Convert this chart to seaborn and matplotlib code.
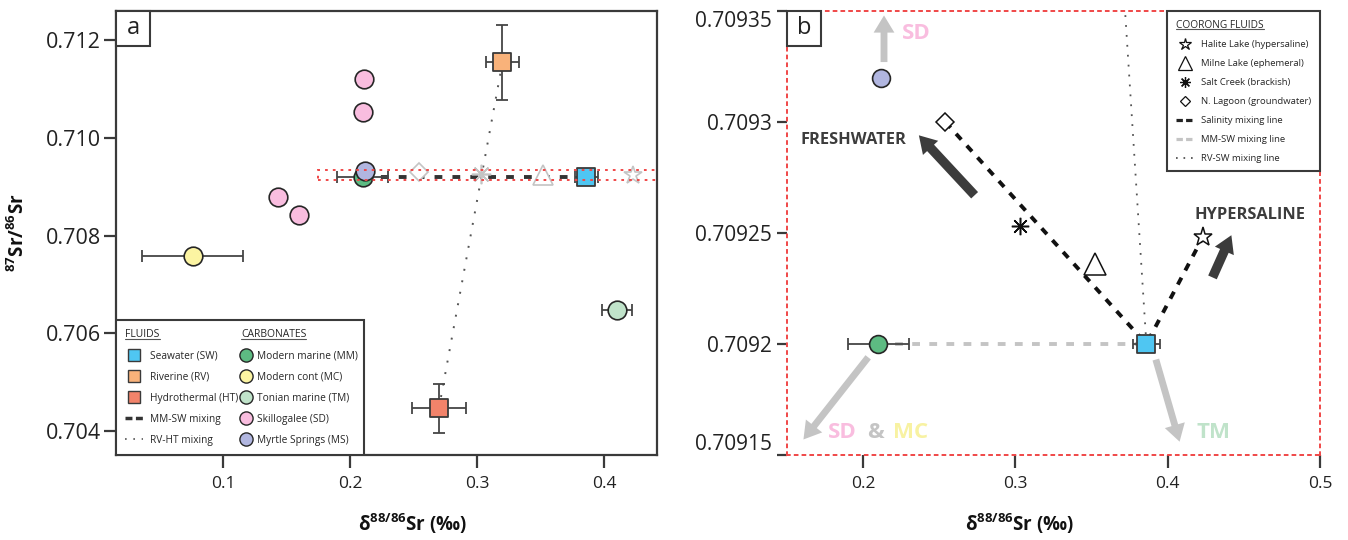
import numpy as np
import pandas as pd
import matplotlib
matplotlib.use('Agg')
import matplotlib.pyplot as plt
import seaborn as sns
from matplotlib.patches import Rectangle
from matplotlib.lines import Line2D

# ---- data: x = d88/86Sr (permil), y = 87Sr/86Sr ----
# fluids
sw_x, sw_y, sw_xerr = 0.386, 0.70920, 0.009
rv_x, rv_y, rv_xerr, rv_yerr = 0.320, 0.71155, 0.013, 0.00077
ht_x, ht_y, ht_xerr, ht_yerr = 0.270, 0.70447, 0.021, 0.00050

# carbonates
mm_x, mm_y, mm_xerr = 0.210, 0.70920, 0.020
mc_x, mc_y, mc_xerr = 0.076, 0.70759, 0.040
tm_x, tm_y, tm_xerr = 0.410, 0.70648, 0.0120
sd_x = [0.211, 0.210, 0.143, 0.160]
sd_y = [0.71120, 0.71053, 0.70880, 0.70843]
ms_x, ms_y = 0.212, 0.709320

# coorong fluids
coorong_names = ['Halite Lake (hypersaline)', 'Milne Lake (ephemeral)',
                 'Salt Creek (brackish)', 'N. Lagoon (groundwater)']
coorong_x = [0.423, 0.352, 0.303, 0.254]
coorong_y = [0.709248, 0.709236, 0.709253, 0.709300]

# mixing lines in panel b
salinity_x = [0.254, 0.386, 0.423]
salinity_y = [0.709300, 0.709200, 0.709248]
rv_sw_x = [0.386, 0.372]
rv_sw_y = [0.709200, 0.709350]

a_yticks = [0.704, 0.706, 0.708, 0.710, 0.712]
a_xticks = [0.1, 0.2, 0.3, 0.4]
b_yticks = [0.70915, 0.70920, 0.70925, 0.70930, 0.70935]
b_yticklabels = ['0.70915', '0.7092', '0.70925', '0.7093', '0.70935']
b_xticks = [0.2, 0.3, 0.4, 0.5]

# colours
sw_col = '#4fc6f2'
rv_col = '#f9b27a'
ht_col = '#f2836a'
mm_col = '#5dbb82'
mc_col = '#fcf4a2'
tm_col = '#c0e3ca'
sd_col = '#f9bddf'
ms_col = '#b1b6e0'
dark = '#3a3a3a'
red = '#f04848'
light = '#c4c4c4'

sns.set_theme(style='ticks')
plt.rcParams['font.family'] = ['Open Sans', 'DejaVu Sans']
plt.rcParams['mathtext.fontset'] = 'custom'
plt.rcParams['mathtext.rm'] = 'Open Sans'
plt.rcParams['mathtext.default'] = 'regular'

fig = plt.figure(figsize=(13.48, 5.4), dpi=100)
ax1 = fig.add_axes([116/1348, 85/540, 541/1348, 444/540])
ax2 = fig.add_axes([787/1348, 85/540, 533/1348, 444/540])

ebar = dict(fmt='none', ecolor='#454545', elinewidth=1.3, capsize=4.5, capthick=1.3)
edge = '#262626'
red_dots = (0, (1.4, 2.6))

# ================= panel a =================
ax1.set_xlim(0.0157, 0.4417)
ax1.set_ylim(0.70351, 0.7126)

ax1.plot([rv_x, ht_x], [rv_y, ht_y], color='#555555', lw=1.4, ls=(0, (1, 5)), zorder=1)
ax1.plot([mm_x, sw_x], [mm_y, sw_y], color='#333333', lw=2.8, ls=(0, (2, 2.6)), zorder=1.8)

ax1.errorbar([mc_x], [mc_y], xerr=mc_xerr, zorder=2, **ebar)
ax1.errorbar([mm_x], [mm_y], xerr=mm_xerr, zorder=2, **ebar)
ax1.errorbar([tm_x], [tm_y], xerr=tm_xerr, zorder=2, **ebar)
ax1.errorbar([sw_x], [sw_y], xerr=sw_xerr, zorder=2, **ebar)
ax1.errorbar([rv_x], [rv_y], xerr=rv_xerr, yerr=rv_yerr, zorder=2, **ebar)
ax1.errorbar([ht_x], [ht_y], xerr=ht_xerr, yerr=ht_yerr, zorder=2, **ebar)

# coorong fluids, greyed out
grey_marks = [('*', 13.5), ('^', 15), ((8, 2, 0), 14), ('D', 9)]
for (m, ms), x, y in zip(grey_marks, coorong_x, coorong_y):
    ax1.plot([x], [y], marker=m, ls='none', mfc='white', mec=light, ms=ms, mew=1.2, zorder=2.5)

sns.scatterplot(x=[mc_x], y=[mc_y], ax=ax1, color=mc_col, s=180, edgecolor=edge, linewidth=1.2, zorder=4)
sns.scatterplot(x=[tm_x], y=[tm_y], ax=ax1, color=tm_col, s=180, edgecolor=edge, linewidth=1.2, zorder=4)
sns.scatterplot(x=sd_x, y=sd_y, ax=ax1, color=sd_col, s=180, edgecolor=edge, linewidth=1.2, zorder=4)
sns.scatterplot(x=[mm_x], y=[mm_y], ax=ax1, color=mm_col, s=180, edgecolor=edge, linewidth=1.2, zorder=4)
sns.scatterplot(x=[ms_x], y=[ms_y], ax=ax1, color=ms_col, s=180, edgecolor=edge, linewidth=1.2, zorder=4.2)
sns.scatterplot(x=[rv_x], y=[rv_y], ax=ax1, color=rv_col, marker='s', s=165, edgecolor=dark, linewidth=1.3, zorder=4)
sns.scatterplot(x=[ht_x], y=[ht_y], ax=ax1, color=ht_col, marker='s', s=165, edgecolor=dark, linewidth=1.3, zorder=4)
sns.scatterplot(x=[sw_x], y=[sw_y], ax=ax1, color=sw_col, marker='s', s=165, edgecolor=dark, linewidth=1.3, zorder=4)

# zoom window of panel b
ax1.add_patch(Rectangle((0.175, b_yticks[0]), 0.3, b_yticks[-1] - b_yticks[0], fill=False,
                        ec=red, lw=1.4, ls=red_dots, zorder=5))

ax1.set_xticks(a_xticks)
ax1.set_xticklabels([f'{v:.1f}' for v in a_xticks])
ax1.set_yticks(a_yticks)
ax1.set_yticklabels([f'{v:.3f}' for v in a_yticks])
ax1.tick_params(axis='x', labelsize=12.5, length=9, width=1.6, color=dark, labelcolor='#222', pad=6)
ax1.tick_params(axis='y', labelsize=15.5, length=9, width=1.6, color=dark, labelcolor='#222', pad=2)
for s in ax1.spines.values():
    s.set_color(dark)
    s.set_linewidth(1.6)
ax1.set_xlabel(r'δ$^{88/86}$Sr (‰)', fontsize=13.5, fontweight='bold', color='#111')
ax1.xaxis.set_label_coords(0.549, -0.128)
ax1.set_ylabel(r'$^{87}$Sr/$^{86}$Sr', fontsize=13.5, fontweight='bold', color='#111')
ax1.yaxis.set_label_coords(-0.16, 0.5)

# legend of panel a
ax1.add_patch(Rectangle((0, 0), 0.458, 0.304, transform=ax1.transAxes, fc='white',
                        ec=dark, lw=1.5, zorder=6))
fluid_handles = [
    Line2D([], [], marker='s', ls='none', mfc=sw_col, mec=dark, ms=8.5, mew=1),
    Line2D([], [], marker='s', ls='none', mfc=rv_col, mec=dark, ms=8.5, mew=1),
    Line2D([], [], marker='s', ls='none', mfc=ht_col, mec=dark, ms=8.5, mew=1),
    Line2D([], [], color='#333333', lw=2.5, ls=(0, (2, 1))),
    Line2D([], [], color='#555555', lw=1.2, ls=(0, (1, 4))),
]
fluid_labels = ['Seawater (SW)', 'Riverine (RV)', 'Hydrothermal (HT)', 'MM-SW mixing', 'RV-HT mixing']
carb_handles = [Line2D([], [], marker='o', ls='none', mfc=c, mec=edge, ms=9.5, mew=1)
                for c in [mm_col, mc_col, tm_col, sd_col, ms_col]]
carb_labels = ['Modern marine (MM)', 'Modern cont (MC)', 'Tonian marine (TM)',
               'Skillogalee (SD)', 'Myrtle Springs (MS)']
leg_kw = dict(loc='upper left', frameon=False, fontsize=7.3, title_fontsize=7.5, alignment='left',
              borderaxespad=0, borderpad=0.9, labelspacing=1.0, handlelength=1.8, handletextpad=0.7)
leg_a1 = ax1.legend(fluid_handles, fluid_labels, title='FLUIDS', bbox_to_anchor=(0.0, 0.304), **leg_kw)
leg_a1.set_zorder(7)
ax1.add_artist(leg_a1)
leg_a2 = ax1.legend(carb_handles, carb_labels, title='CARBONATES', bbox_to_anchor=(0.214, 0.304),
                    **dict(leg_kw, handlelength=1.0, handletextpad=0.6))
leg_a2.set_zorder(7)

# panel label
ax1.add_patch(Rectangle((0, 1 - 0.0788), 0.0628, 0.0788, transform=ax1.transAxes, fc='white',
                        ec=dark, lw=1.5, zorder=8, clip_on=False))
ax1.text(0.0314, 1 - 0.0394, 'a', transform=ax1.transAxes, ha='center', va='center',
         fontsize=17, color='#222', zorder=9)

# ================= panel b =================
ax2.set_xlim(0.15, 0.5)
ax2.set_ylim(b_yticks[0], b_yticks[-1])

ax2.plot(rv_sw_x, rv_sw_y, color='#555555', lw=1.3, ls=(0, (1, 4.5)), zorder=1)
ax2.plot([mm_x, sw_x], [mm_y, sw_y], color=light, lw=2.8, ls=(0, (2, 2.4)), zorder=1.5)
ax2.plot(salinity_x, salinity_y, color='#111111', lw=2.8, ls=(0, (2, 2.1)), zorder=1.8)

ax2.errorbar([mm_x], [mm_y], xerr=mm_xerr, zorder=2, **ebar)
ax2.errorbar([sw_x], [sw_y], xerr=sw_xerr, zorder=2, **dict(ebar, capsize=3.5))

black_marks = [('*', 14), ('^', 16), ((8, 2, 0), 12.5), ('D', 9)]
for (m, ms), x, y in zip(black_marks, coorong_x, coorong_y):
    ax2.plot([x], [y], marker=m, ls='none', mfc='white', mec='#111111', ms=ms, mew=1.1, zorder=3)

sns.scatterplot(x=[ms_x], y=[ms_y], ax=ax2, color=ms_col, s=165, edgecolor=edge, linewidth=1.2, zorder=4)
sns.scatterplot(x=[mm_x], y=[mm_y], ax=ax2, color=mm_col, s=165, edgecolor=edge, linewidth=1.2, zorder=4)
sns.scatterplot(x=[sw_x], y=[sw_y], ax=ax2, color=sw_col, marker='s', s=150, edgecolor=dark, linewidth=1.3, zorder=4)

# direction arrows
def arrow(ax, tail, tip, color, tw):
    ax.annotate('', xy=tip, xytext=tail, zorder=3,
                arrowprops=dict(arrowstyle=f'simple,head_width=1.15,head_length=0.95,tail_width={tw}',
                                mutation_scale=13, color=color, lw=0, shrinkA=0, shrinkB=0))

arrow(ax2, (0.2137, 0.709327), (0.2137, 0.709348), light, 0.38)
arrow(ax2, (0.2033, 0.709194), (0.1608, 0.709157), light, 0.38)
arrow(ax2, (0.3922, 0.709193), (0.4078, 0.709156), light, 0.38)
arrow(ax2, (0.2732, 0.709267), (0.2366, 0.709294), '#3c3c3c', 0.52)
arrow(ax2, (0.4294, 0.709230), (0.4418, 0.709249), '#3c3c3c', 0.52)

bold = dict(fontweight='bold', ha='center', va='center')
ax2.text(0.2346, 0.709340, 'SD', color=sd_col, fontsize=16, **bold)
ax2.text(0.1935, 0.709292, 'FRESHWATER', color='#3c3c3c', fontsize=11.8, **bold)
ax2.text(0.4542, 0.709258, 'HYPERSALINE', color='#3c3c3c', fontsize=11.8, **bold)
ax2.text(0.1863, 0.709160, 'SD', color=sd_col, fontsize=16, **bold)
ax2.text(0.2078, 0.709160, '&', color=light, fontsize=16, **bold)
ax2.text(0.2314, 0.709160, 'MC', color='#f8f2a2', fontsize=16, **bold)
ax2.text(0.4300, 0.709160, 'TM', color=tm_col, fontsize=16, **bold)

ax2.set_xticks(b_xticks)
ax2.set_xticklabels([f'{v:.1f}' for v in b_xticks])
ax2.set_yticks(b_yticks)
ax2.set_yticklabels(b_yticklabels)
ax2.tick_params(axis='x', labelsize=12.5, length=9, width=1.6, color=dark, labelcolor='#222', pad=6)
ax2.tick_params(axis='y', labelsize=15, length=7, width=1.6, color=dark, labelcolor='#222', pad=4)
ylabs = ax2.get_yticklabels()
ylabs[0].set_va('bottom')
ylabs[-1].set_va('top')
for s in ax2.spines.values():
    s.set_color(red)
    s.set_linewidth(1.4)
    s.set_linestyle(red_dots)
ax2.set_xlabel(r'δ$^{88/86}$Sr (‰)', fontsize=13.5, fontweight='bold', color='#111')
ax2.xaxis.set_label_coords(0.437, -0.128)

coorong_handles = [Line2D([], [], marker=m, ls='none', mfc='white', mec='#111111', ms=s * 0.62, mew=0.9)
                   for m, s in black_marks]
coorong_handles += [
    Line2D([], [], color='#222222', lw=2.3, ls=(0, (2, 1))),
    Line2D([], [], color=light, lw=2.3, ls=(0, (2, 1))),
    Line2D([], [], color='#444444', lw=1.2, ls=(0, (1, 3.5))),
]
coorong_labels = coorong_names + ['Salinity mixing line', 'MM-SW mixing line', 'RV-SW mixing line']
leg_b = ax2.legend(coorong_handles, coorong_labels, title='COORONG FLUIDS', loc='upper right',
                   bbox_to_anchor=(1.0, 1.0), borderaxespad=0, frameon=True, fancybox=False,
                   edgecolor=dark, framealpha=1, fontsize=6.8, title_fontsize=7.3, alignment='left',
                   borderpad=0.9, labelspacing=1.05, handlelength=1.9, handletextpad=0.8)
leg_b.get_frame().set_linewidth(1.5)
leg_b.set_zorder(7)

ax2.add_patch(Rectangle((0, 1 - 0.0788), 0.0638, 0.0788, transform=ax2.transAxes, fc='white',
                        ec=dark, lw=1.5, zorder=8, clip_on=False))
ax2.text(0.0319, 1 - 0.0394, 'b', transform=ax2.transAxes, ha='center', va='center',
         fontsize=17, color='#222', zorder=9)

# underline the legend headers
fig.canvas.draw()
renderer = fig.canvas.get_renderer()
inv = fig.transFigure.inverted()
for leg in [leg_a1, leg_a2, leg_b]:
    bb = leg.get_title().get_window_extent(renderer)
    (x0, y0), (x1, _) = inv.transform([[bb.x0, bb.y0 + 0.12 * bb.height], [bb.x1, bb.y1]])
    fig.add_artist(Line2D([x0, x1], [y0, y0], color='#555555', lw=0.8, zorder=10))

fig.savefig('out.png', dpi=100)
